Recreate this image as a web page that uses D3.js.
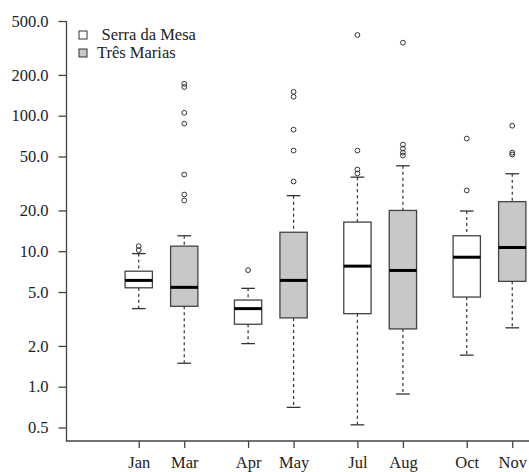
<!DOCTYPE html>
<html>
<head>
<meta charset="utf-8">
<script src="https://cdn.jsdelivr.net/npm/d3@7"></script>
<style>
  body { margin: 0; background: #fff; }
</style>
</head>
<body>
<svg width="529" height="472"></svg>
<script>
const svg = d3.select('svg');
const width = +svg.attr('width');
const height = +svg.attr('height');
const serif = '"Liberation Serif", "Times New Roman", Times, "DejaVu Serif", serif';

// data
const months = ['Jan', 'Mar', 'Apr', 'May', 'Jul', 'Aug', 'Oct', 'Nov'];
const reservoirs = ['Serra da Mesa', 'Três Marias'];
const monthReservoir = ['Serra da Mesa', 'Três Marias', 'Serra da Mesa', 'Três Marias',
                        'Serra da Mesa', 'Três Marias', 'Serra da Mesa', 'Três Marias'];
const whiskerLow = [3.77, 1.49, 2.08, 0.704, 0.523, 0.883, 1.71, 2.72];
const q1 = [5.37, 3.92, 2.89, 3.22, 3.46, 2.67, 4.59, 5.99];
const median = [6.09, 5.41, 3.77, 6.09, 7.76, 7.21, 9.03, 10.65];
const q3 = [7.12, 10.9, 4.36, 13.8, 16.4, 20.0, 13.0, 23.2];
const whiskerHigh = [9.6, 13.0, 5.32, 25.7, 35.2, 42.7, 19.8, 37.3];
const outliers = [
  [10.2, 10.9],
  [23.7, 26.2, 36.8, 87.4, 105, 163, 172],
  [7.25],
  [32.7, 55.3, 78.9, 138, 150],
  [37.5, 40.1, 55.3, 394],
  [50.8, 53.4, 57.2, 61.2, 346],
  [28.1, 67.8],
  [51.7, 53.4, 84.4]
];
const yTicks = [0.5, 1, 2, 5, 10, 20, 50, 100, 200, 500];

const boxes = months.map((m, i) => ({
  month: m, group: Math.floor(i / 2), reservoir: monthReservoir[i],
  lo: whiskerLow[i], q1: q1[i], med: median[i], q3: q3[i], hi: whiskerHigh[i],
  out: outliers[i]
}));

const plotLeft = 66.5, plotBottom = 441;

const y = d3.scaleLog().domain([0.5, 500]).range([427.5, 21]);

const outer = d3.scaleBand()
  .domain(d3.range(4))
  .range([116, 535])
  .paddingInner(0.1677)
  .paddingOuter(0);

const inner = d3.scaleBand()
  .domain(reservoirs)
  .range([0, outer.bandwidth()]);

const cx = d => outer(d.group) + inner(d.reservoir) + inner.bandwidth() / 2;
const boxW = inner.bandwidth() * 0.6;

const fill = d3.scaleOrdinal().domain(reservoirs).range(['#ffffff', '#c8c8c8']);

const axisColor = '#444';

// y axis
const yAxis = svg.append('g')
  .attr('transform', `translate(${plotLeft},0)`)
  .call(d3.axisLeft(y).tickValues(yTicks).tickFormat(d3.format('.1f')).tickSize(8).tickPadding(10).tickSizeOuter(0));
yAxis.attr('font-family', serif);
yAxis.select('.domain').remove();
yAxis.selectAll('.tick line').attr('stroke', axisColor).attr('stroke-width', 1.3);
yAxis.selectAll('.tick text').style('font-family', serif).style('font-size', '16.5px').attr('fill', '#222');

// x axis
const xPos = d3.scaleOrdinal().domain(months).range(boxes.map(cx));
const xAxis = svg.append('g')
  .attr('transform', `translate(0,${plotBottom})`)
  .call(d3.axisBottom(xPos).tickSize(7).tickPadding(8).tickSizeOuter(0));
xAxis.attr('font-family', serif);
xAxis.select('.domain').remove();
xAxis.selectAll('.tick line').attr('stroke', axisColor).attr('stroke-width', 1.3);
xAxis.selectAll('.tick text').style('font-family', serif).style('font-size', '16.5px').attr('fill', '#222');

// L-shaped frame
svg.append('path')
  .attr('d', `M${plotLeft},${y(500)}V${plotBottom}H${width}`)
  .attr('fill', 'none')
  .attr('stroke', axisColor)
  .attr('stroke-width', 1.3);

// boxes
const g = svg.append('g').selectAll('g').data(boxes).enter().append('g');

g.append('line')
  .attr('x1', cx).attr('x2', cx)
  .attr('y1', d => y(d.hi)).attr('y2', d => y(d.q3))
  .attr('stroke', '#333').attr('stroke-dasharray', '3,3').attr('stroke-width', 1.2);
g.append('line')
  .attr('x1', cx).attr('x2', cx)
  .attr('y1', d => y(d.q1)).attr('y2', d => y(d.lo))
  .attr('stroke', '#333').attr('stroke-dasharray', '3,3').attr('stroke-width', 1.2);

['hi', 'lo'].forEach(k => {
  g.append('line')
    .attr('x1', d => cx(d) - boxW / 4).attr('x2', d => cx(d) + boxW / 4)
    .attr('y1', d => y(d[k])).attr('y2', d => y(d[k]))
    .attr('stroke', '#333').attr('stroke-width', 1.3);
});

g.append('rect')
  .attr('x', d => cx(d) - boxW / 2)
  .attr('width', boxW)
  .attr('y', d => y(d.q3))
  .attr('height', d => y(d.q1) - y(d.q3))
  .attr('fill', d => fill(d.reservoir))
  .attr('stroke', '#444')
  .attr('stroke-width', 1.3);

g.append('line')
  .attr('x1', d => cx(d) - boxW / 2).attr('x2', d => cx(d) + boxW / 2)
  .attr('y1', d => y(d.med)).attr('y2', d => y(d.med))
  .attr('stroke', '#000').attr('stroke-width', 3);

g.selectAll('circle').data(d => d.out.map(v => ({ v, x: cx(d) }))).enter().append('circle')
  .attr('cx', d => d.x)
  .attr('cy', d => y(d.v))
  .attr('r', 2.4)
  .attr('fill', 'none')
  .attr('stroke', '#333')
  .attr('stroke-width', 1);

// legend
const legend = svg.append('g').selectAll('g').data(reservoirs).enter().append('g')
  .attr('transform', (d, i) => `translate(83,${35 + i * 18})`);
legend.append('rect')
  .attr('x', -4).attr('y', -4).attr('width', 8).attr('height', 8)
  .attr('fill', d => fill(d))
  .attr('stroke', '#333').attr('stroke-width', 1);
legend.append('text')
  .attr('x', (d, i) => i === 0 ? 18.5 : 14)
  .attr('y', 5)
  .style('font-family', serif)
  .style('font-size', '16.5px')
  .attr('fill', '#222')
  .text(d => d);
</script>
</body>
</html>
